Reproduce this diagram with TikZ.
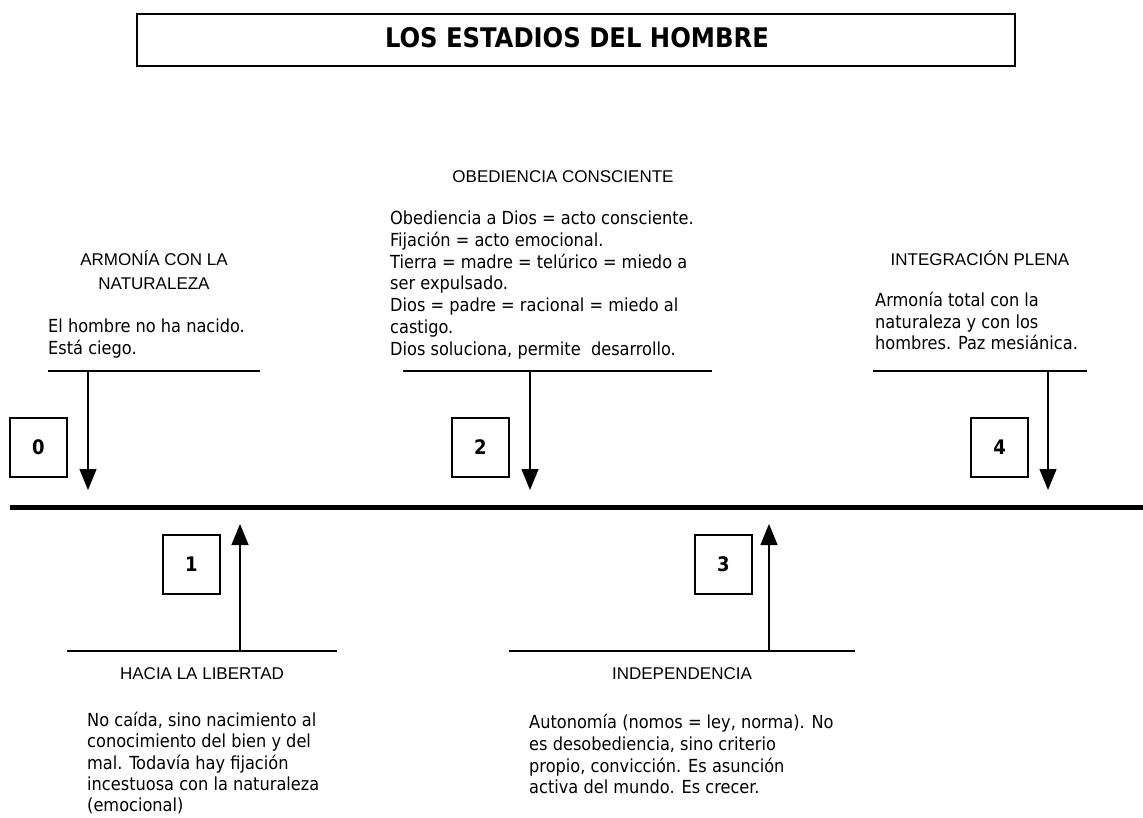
\documentclass[tikz,border=0pt]{standalone}
\usepackage{fontspec}
\setmainfont{DejaVu Sans Condensed}
\newfontfamily\headfont{Liberation Sans}
\usetikzlibrary{arrows.meta}
\begin{document}
\begin{tikzpicture}[x=1pt,y=-1pt,
  etapa/.style={font=\headfont\fontsize{17}{24}\selectfont, align=center, inner sep=0pt},
  texto/.style={font=\fontsize{18}{21.7}\selectfont, align=left, anchor=north west, inner sep=0pt},
  numero/.style={draw, line width=1.3pt, minimum width=57pt, minimum height=59pt, inner sep=0pt, font=\bfseries\fontsize{20}{20}\selectfont},
  flecha/.style={line width=1.3pt, -{Triangle[width=17pt,length=21pt]}},
  raya/.style={line width=1.3pt}]
\useasboundingbox (0,0) rectangle (1143,818);

\node[draw, line width=1.6pt, minimum width=878pt, minimum height=52pt] (titulo) at (576,40) {};
\node[font=\bfseries\fontsize{27}{27}\selectfont, inner sep=0pt] (tit) at (577,38) {LOS ESTADIOS DEL HOMBRE};

\draw[line width=5pt] (10,507) -- (1143,507);

\node[etapa] (e0) at (154,270) {ARMONÍA CON LA\\NATURALEZA};
\node[texto] (t0) at (48,319) {El hombre no ha nacido.\\Está ciego.};
\draw[raya] (48,371) -- (260,371);
\coordinate (a0) at (88,371);
\coordinate (b0) at (88,490);
\draw[flecha] (a0) -- (b0);
\node[numero] (n0) at (38.5,447.5) {0};

\node[etapa] (e2) at (563,177) {OBEDIENCIA CONSCIENTE};
\node[texto] (t2) at (390,211) {Obediencia a Dios = acto consciente.\\Fijación = acto emocional.\\Tierra = madre = telúrico = miedo a\\ser expulsado.\\Dios = padre = racional = miedo al\\castigo.\\Dios soluciona, permite\ \ desarrollo.};
\draw[raya] (403,371) -- (712,371);
\coordinate (a2) at (530,371);
\coordinate (b2) at (530,490);
\draw[flecha] (a2) -- (b2);
\node[numero] (n2) at (480.5,447.5) {2};

\node[etapa] (e4) at (980,258) {INTEGRACIÓN PLENA};
\node[texto] (t4) at (875,292) {Armonía total con la\\naturaleza y con los\\hombres. Paz mesiánica.};
\draw[raya] (873,371) -- (1087,371);
\coordinate (a4) at (1048,371);
\coordinate (b4) at (1048,490);
\draw[flecha] (a4) -- (b4);
\node[numero] (n4) at (999.5,447.5) {4};

\node[numero] (n1) at (191.5,564.5) {1};
\coordinate (a1) at (240,651);
\coordinate (b1) at (240,524);
\draw[flecha] (a1) -- (b1);
\draw[raya] (67,651) -- (337,651);
\node[etapa] (e1) at (202,674) {HACIA LA LIBERTAD};
\node[texto, font=\fontsize{18}{21.2}\selectfont] (t1) at (87,712) {No caída, sino nacimiento al\\conocimiento del bien y del\\mal. Todavía hay fijación\\incestuosa con la naturaleza\\(emocional)};

\node[numero] (n3) at (723.5,564.5) {3};
\coordinate (a3) at (769,651);
\coordinate (b3) at (769,524);
\draw[flecha] (a3) -- (b3);
\draw[raya] (509,651) -- (855,651);
\node[etapa] (e3) at (682,674) {INDEPENDENCIA};
\node[texto] (t3) at (529,714) {Autonomía (nomos = ley, norma). No\\es desobediencia, sino criterio\\propio, convicción. Es asunción\\activa del mundo. Es crecer.};
\end{tikzpicture}
\end{document}
